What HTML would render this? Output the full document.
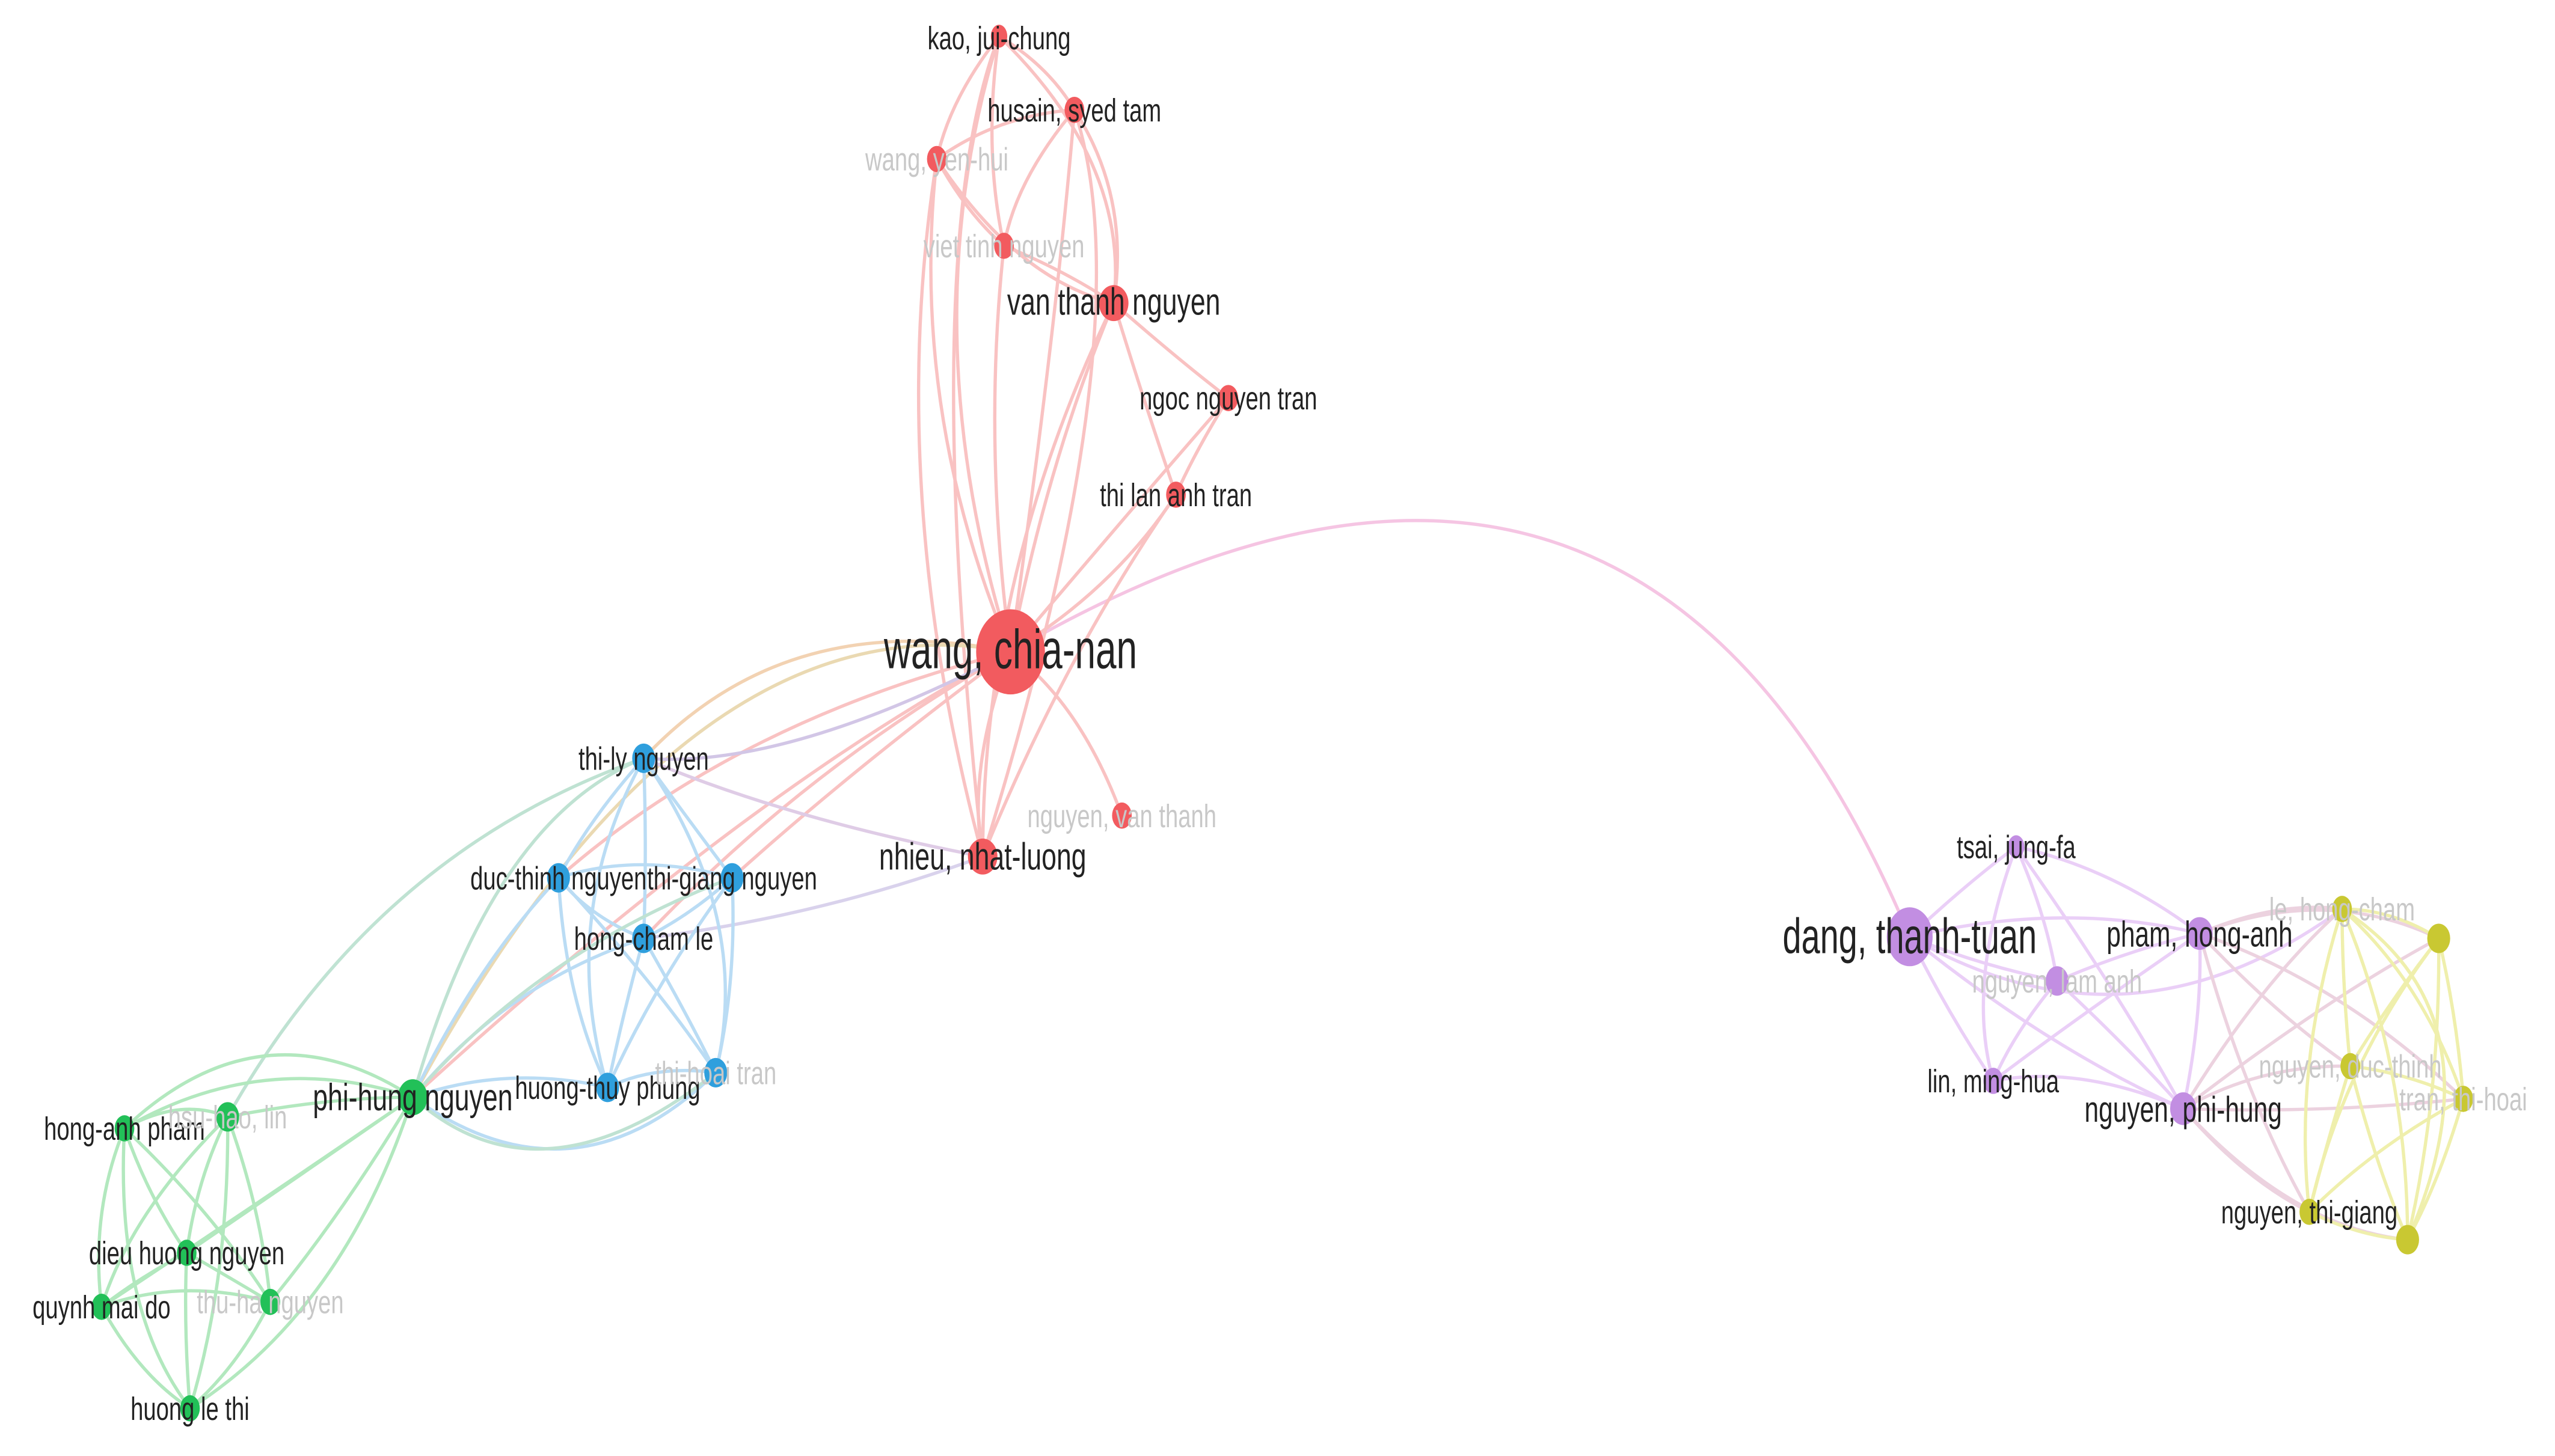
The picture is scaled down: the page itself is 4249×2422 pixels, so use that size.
<!DOCTYPE html>
<html><head><meta charset="utf-8"><style>
html,body{margin:0;padding:0;background:#fff}
svg{display:block}
text{font-family:"Liberation Sans",sans-serif;fill:#222}
.f{fill:#c8c8c8}
</style></head><body>
<svg width="4249" height="2422" viewBox="0 0 1560 889" xmlns="http://www.w3.org/2000/svg">
<g fill="none" stroke-width="2" stroke-linecap="round" opacity="0.8">
<path d="M617 398 Q1000 175 1166 572" stroke="#f3b6dc"/>
<g stroke="#f8b4b4">
<path d="M617 398 Q555 200 610 22"/>
<path d="M617 398 Q645 200 656 67"/>
<path d="M617 398 Q555 250 572 97"/>
<path d="M617 398 Q600 270 613 150"/>
<path d="M617 398 Q640 280 680 185"/>
<path d="M617 398 Q700 300 750 243"/>
<path d="M617 398 Q680 360 718 302"/>
<path d="M617 398 Q590 470 600 523"/>
<path d="M617 398 Q660 430 685 498"/>
<path d="M617 398 Q450 440 341 536"/>
<path d="M617 398 Q520 470 447 536"/>
<path d="M617 398 Q490 470 393 573"/>
<path d="M617 398 Q460 480 252 670"/>
<path d="M610 22 Q640 40 656 67"/>
<path d="M610 22 Q580 60 572 97"/>
<path d="M610 22 Q600 90 613 150"/>
<path d="M610 22 Q690 100 680 185"/>
<path d="M610 22 Q560 150 600 523"/>
<path d="M656 67 Q610 70 572 97"/>
<path d="M656 67 Q620 110 613 150"/>
<path d="M656 67 Q690 120 680 185"/>
<path d="M656 67 Q700 200 600 523"/>
<path d="M572 97 Q590 130 613 150"/>
<path d="M572 97 Q620 170 680 185"/>
<path d="M572 97 Q540 300 600 523"/>
<path d="M613 150 Q650 165 680 185"/>
<path d="M680 185 Q720 220 750 243"/>
<path d="M680 185 Q700 250 718 302"/>
<path d="M680 185 Q600 350 600 523"/>
<path d="M750 243 Q730 275 718 302"/>
<path d="M718 302 Q650 400 600 523"/>
</g>
<path d="M617 398 Q480 370 393 463" stroke="#f0c8a0"/>
<path d="M617 398 Q420 360 252 670" stroke="#e6d0a0"/>
<path d="M600 523 Q480 500 393 463" stroke="#d8c0e0"/>
<path d="M600 523 Q500 560 393 573" stroke="#d0c8e8"/>
<path d="M393 463 Q480 470 617 398" stroke="#c8b8e0"/>
<g stroke="#a9d4f2">
<path d="M393 463 Q360 500 341 536"/>
<path d="M393 463 Q420 500 447 536"/>
<path d="M393 463 Q395 520 393 573"/>
<path d="M393 463 Q340 560 371 664"/>
<path d="M393 463 Q460 560 437 655"/>
<path d="M341 536 Q390 520 447 536"/>
<path d="M341 536 Q360 560 393 573"/>
<path d="M341 536 Q345 610 371 664"/>
<path d="M341 536 Q400 600 437 655"/>
<path d="M447 536 Q420 560 393 573"/>
<path d="M447 536 Q400 600 371 664"/>
<path d="M447 536 Q450 600 437 655"/>
<path d="M393 573 Q380 620 371 664"/>
<path d="M393 573 Q420 620 437 655"/>
<path d="M371 664 Q400 650 437 655"/>
<path d="M393 573 Q310 600 252 670"/>
<path d="M371 664 Q310 650 252 670"/>
<path d="M437 655 Q350 740 252 670"/>
<path d="M341 536 Q290 590 252 670"/>
</g>
<g stroke="#b0dcc8">
<path d="M393 463 Q300 500 252 670"/>
<path d="M447 536 Q330 580 252 670"/>
<path d="M393 463 Q230 520 139 682"/>
<path d="M437 655 Q330 740 252 670"/>
</g>
<g stroke="#9fe3ae">
<path d="M252 670 Q160 610 76 689"/>
<path d="M252 670 Q200 670 139 682"/>
<path d="M252 670 Q180 720 114 765"/>
<path d="M252 670 Q150 740 62 798"/>
<path d="M252 670 Q210 740 165 795"/>
<path d="M252 670 Q210 800 116 860"/>
<path d="M76 689 Q110 670 139 682"/>
<path d="M76 689 Q90 730 114 765"/>
<path d="M76 689 Q55 740 62 798"/>
<path d="M76 689 Q130 740 165 795"/>
<path d="M76 689 Q70 800 116 860"/>
<path d="M139 682 Q120 720 114 765"/>
<path d="M139 682 Q80 740 62 798"/>
<path d="M139 682 Q160 740 165 795"/>
<path d="M139 682 Q140 780 116 860"/>
<path d="M114 765 Q85 780 62 798"/>
<path d="M114 765 Q140 780 165 795"/>
<path d="M114 765 Q112 810 116 860"/>
<path d="M62 798 Q110 780 165 795"/>
<path d="M62 798 Q85 840 116 860"/>
<path d="M165 795 Q145 835 116 860"/>
<path d="M76 689 Q160 640 252 670"/>
</g>
<g stroke="#e6c4f6">
<path d="M1166 572 Q1200 540 1231 517"/>
<path d="M1166 572 Q1260 550 1343 570"/>
<path d="M1166 572 Q1210 590 1256 599"/>
<path d="M1166 572 Q1190 620 1217 660"/>
<path d="M1166 572 Q1250 640 1333 677"/>
<path d="M1231 517 Q1290 530 1343 570"/>
<path d="M1231 517 Q1250 560 1256 599"/>
<path d="M1231 517 Q1200 600 1217 660"/>
<path d="M1231 517 Q1290 600 1333 677"/>
<path d="M1343 570 Q1300 580 1256 599"/>
<path d="M1343 570 Q1270 620 1217 660"/>
<path d="M1343 570 Q1345 620 1333 677"/>
<path d="M1256 599 Q1230 630 1217 660"/>
<path d="M1256 599 Q1300 640 1333 677"/>
<path d="M1217 660 Q1270 650 1333 677"/>
<path d="M1166 572 Q1300 650 1430 555"/>
</g>
<g stroke="#e8c8d8">
<path d="M1343 570 Q1390 550 1430 555"/>
<path d="M1343 570 Q1420 540 1489 573"/>
<path d="M1343 570 Q1390 620 1435 651"/>
<path d="M1343 570 Q1430 600 1504 671"/>
<path d="M1343 570 Q1370 670 1410 740"/>
<path d="M1333 677 Q1380 600 1430 555"/>
<path d="M1333 677 Q1420 610 1489 573"/>
<path d="M1333 677 Q1380 650 1435 651"/>
<path d="M1333 677 Q1420 680 1504 671"/>
<path d="M1333 677 Q1370 720 1410 740"/>
<path d="M1333 677 Q1400 750 1470 757"/>
</g>
<g stroke="#ecec98">
<path d="M1430 555 Q1460 555 1489 573"/>
<path d="M1430 555 Q1430 600 1435 651"/>
<path d="M1430 555 Q1480 600 1504 671"/>
<path d="M1430 555 Q1400 650 1410 740"/>
<path d="M1430 555 Q1470 650 1470 757"/>
<path d="M1489 573 Q1460 610 1435 651"/>
<path d="M1489 573 Q1500 620 1504 671"/>
<path d="M1489 573 Q1430 650 1410 740"/>
<path d="M1489 573 Q1490 670 1470 757"/>
<path d="M1435 651 Q1470 655 1504 671"/>
<path d="M1435 651 Q1420 700 1410 740"/>
<path d="M1435 651 Q1450 710 1470 757"/>
<path d="M1504 671 Q1450 700 1410 740"/>
<path d="M1504 671 Q1490 720 1470 757"/>
<path d="M1410 740 Q1440 755 1470 757"/>
<path d="M1430 555 Q1530 620 1470 757"/>
</g>
</g>
<g fill="#f25b5f">
<ellipse cx="617" cy="398" rx="21" ry="26"/>
<ellipse cx="610" cy="22" rx="5" ry="7"/>
<ellipse cx="656" cy="67" rx="6" ry="8"/>
<ellipse cx="572" cy="97" rx="6" ry="8"/>
<ellipse cx="613" cy="150" rx="6" ry="8"/>
<ellipse cx="680" cy="185" rx="9" ry="11"/>
<ellipse cx="750" cy="243" rx="6" ry="8"/>
<ellipse cx="718" cy="302" rx="6" ry="8"/>
<ellipse cx="600" cy="523" rx="9" ry="11"/>
<ellipse cx="685" cy="498" rx="6" ry="8"/>
</g>
<g fill="#2f9fdd">
<ellipse cx="393" cy="463" rx="7" ry="9"/>
<ellipse cx="341" cy="536" rx="7" ry="9"/>
<ellipse cx="447" cy="536" rx="7" ry="9"/>
<ellipse cx="393" cy="573" rx="7" ry="9"/>
<ellipse cx="371" cy="664" rx="7" ry="9"/>
<ellipse cx="437" cy="655" rx="7" ry="9"/>
</g>
<g fill="#22c058">
<ellipse cx="252" cy="670" rx="9" ry="11"/>
<ellipse cx="76" cy="689" rx="6" ry="8"/>
<ellipse cx="139" cy="682" rx="7" ry="9"/>
<ellipse cx="114" cy="765" rx="6" ry="8"/>
<ellipse cx="62" cy="798" rx="6" ry="8"/>
<ellipse cx="165" cy="795" rx="6" ry="8"/>
<ellipse cx="116" cy="860" rx="6" ry="8"/>
</g>
<g fill="#c28ee2">
<ellipse cx="1166" cy="572" rx="14" ry="18"/>
<ellipse cx="1231" cy="517" rx="5" ry="7"/>
<ellipse cx="1343" cy="570" rx="8" ry="10"/>
<ellipse cx="1256" cy="599" rx="7" ry="9"/>
<ellipse cx="1217" cy="660" rx="6" ry="8"/>
<ellipse cx="1333" cy="677" rx="8" ry="10"/>
</g>
<g fill="#c9c832">
<ellipse cx="1430" cy="555" rx="6" ry="8"/>
<ellipse cx="1489" cy="573" rx="7" ry="9"/>
<ellipse cx="1435" cy="651" rx="6" ry="8"/>
<ellipse cx="1504" cy="671" rx="6" ry="8"/>
<ellipse cx="1410" cy="740" rx="6" ry="8"/>
<ellipse cx="1470" cy="757" rx="7" ry="9"/>
</g>
<g font-size="18" text-anchor="middle">
<text transform="translate(617 408) scale(0.76 1.12)" font-size="30">wang, chia-nan</text>
<text transform="translate(610 30) scale(0.78 1.1)">kao, jui-chung</text>
<text transform="translate(656 74) scale(0.78 1.1)">husain, syed tam</text>
<text transform="translate(572 104) scale(0.78 1.1)" class="f">wang, yen-hui</text>
<text transform="translate(613 157) scale(0.78 1.1)" class="f">viet tinh nguyen</text>
<text transform="translate(680 192) scale(0.78 1.1)" font-size="21">van thanh nguyen</text>
<text transform="translate(750 250) scale(0.78 1.1)">ngoc nguyen tran</text>
<text transform="translate(718 309) scale(0.78 1.1)">thi lan anh tran</text>
<text transform="translate(600 531) scale(0.78 1.1)" font-size="21">nhieu, nhat-luong</text>
<text transform="translate(685 505) scale(0.78 1.1)" class="f">nguyen, van thanh</text>
<text transform="translate(393 470) scale(0.78 1.1)">thi-ly nguyen</text>
<text transform="translate(341 543) scale(0.78 1.1)">duc-thinh nguyen</text>
<text transform="translate(447 543) scale(0.78 1.1)">thi-giang nguyen</text>
<text transform="translate(393 580) scale(0.78 1.1)">hong-cham le</text>
<text transform="translate(371 671) scale(0.78 1.1)">huong-thuy phung</text>
<text transform="translate(437 662) scale(0.78 1.1)" class="f">thi-hoai tran</text>
<text transform="translate(252 678) scale(0.78 1.1)" font-size="21">phi-hung nguyen</text>
<text transform="translate(76 696) scale(0.78 1.1)">hong-anh pham</text>
<text transform="translate(139 689) scale(0.78 1.1)" class="f">hsu-hao, lin</text>
<text transform="translate(114 772) scale(0.78 1.1)">dieu huong nguyen</text>
<text transform="translate(62 805) scale(0.78 1.1)">quynh mai do</text>
<text transform="translate(165 802) scale(0.78 1.1)" class="f">thu-ha nguyen</text>
<text transform="translate(116 867) scale(0.78 1.1)">huong le thi</text>
<text transform="translate(1166 582) scale(0.76 1.12)" font-size="27">dang, thanh-tuan</text>
<text transform="translate(1231 524) scale(0.78 1.1)">tsai, jung-fa</text>
<text transform="translate(1343 578) scale(0.78 1.1)" font-size="20">pham, hong-anh</text>
<text transform="translate(1256 606) scale(0.78 1.1)" class="f">nguyen, lam anh</text>
<text transform="translate(1217 667) scale(0.78 1.1)">lin, ming-hua</text>
<text transform="translate(1333 685) scale(0.78 1.1)" font-size="20">nguyen, phi-hung</text>
<text transform="translate(1430 562) scale(0.78 1.1)" class="f">le, hong-cham</text>
<text transform="translate(1435 658) scale(0.78 1.1)" class="f">nguyen, duc-thinh</text>
<text transform="translate(1504 678) scale(0.78 1.1)" class="f">tran, thi-hoai</text>
<text transform="translate(1410 747) scale(0.78 1.1)">nguyen, thi-giang</text>
</g>
</svg>
</body></html>
